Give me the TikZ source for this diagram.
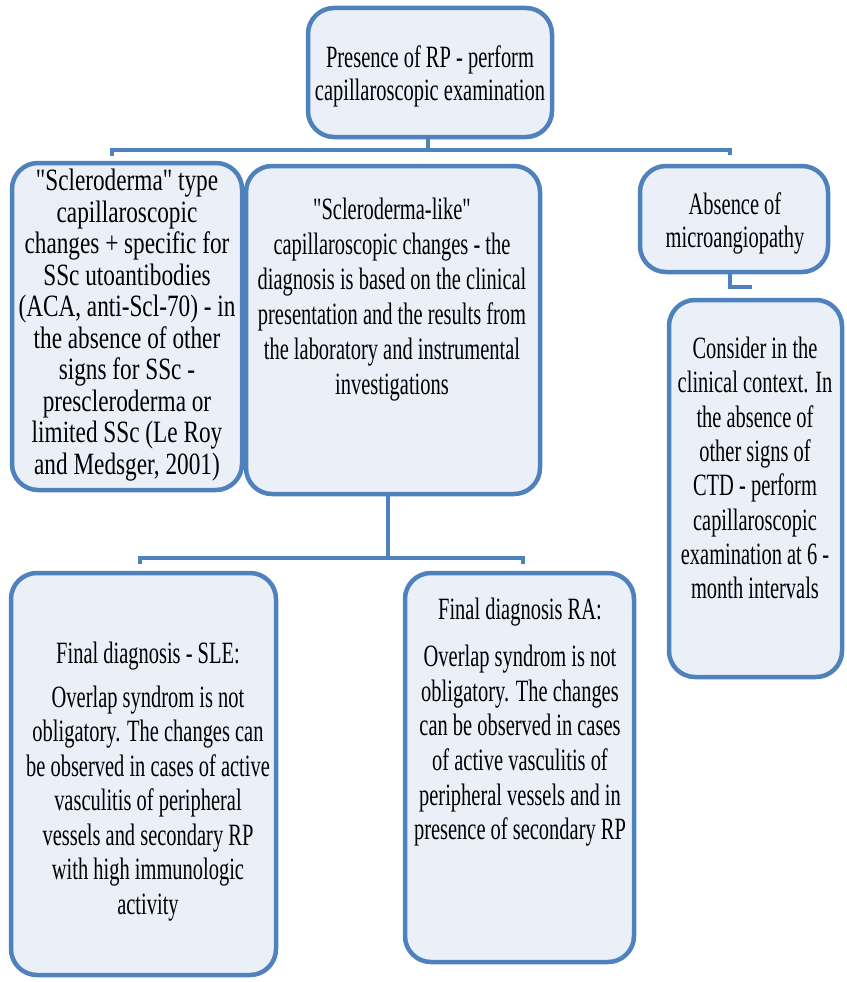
\documentclass[tikz,border=0pt]{standalone}
\usepackage{fontspec}
\setmainfont{Liberation Serif}[FakeStretch=0.66,Ligatures=TeXOff]
\newfontfamily\widefont{Liberation Serif}[FakeStretch=0.75,Ligatures=TeXOff]
\definecolor{bordblue}{HTML}{4F81BD}
\definecolor{boxfill}{HTML}{EBF0F8}
\begin{document}
\begin{tikzpicture}[x=1pt,y=-1pt,
  box/.style={draw=bordblue,fill=boxfill,line width=4.5pt,rounded corners=26pt,inner sep=0pt},
  txt/.style={align=center,inner sep=0pt,font=\fontsize{31}{#1}\selectfont},
  conn/.style={draw=bordblue,line width=4pt}]
\useasboundingbox (0,0) rectangle (846,982);
% boxes
\node[box,minimum width=244pt,minimum height=129pt] (top) at (430,72.5) {};
\node[box,minimum width=230pt,minimum height=327pt] (l1) at (127,326.5) {};
\node[box,minimum width=294pt,minimum height=328pt] (m) at (393,330) {};
\node[box,minimum width=188pt,minimum height=106pt] (abs) at (734,219) {};
\node[box,minimum width=173pt,minimum height=377pt] (cons) at (755.5,488.5) {};
\node[box,minimum width=265pt,minimum height=402pt] (sle) at (143.5,774) {};
\node[box,minimum width=229pt,minimum height=389pt] (ra) at (519.5,767.5) {};
% texts
\node[txt=33pt] (topt) at (430,76) {Presence of RP - perform\\capillaroscopic examination};
\node[txt=31.5pt,font=\widefont\fontsize{31}{31.5}\selectfont] (l1t) at (127,325) {"Scleroderma" type\\capillaroscopic\\changes + specific for\\SSc utoantibodies\\(ACA, anti-Scl-70) - in\\the absence of other\\signs for SSc -\\prescleroderma or\\limited SSc (Le Roy\\and Medsger, 2001)};
\node[txt=35pt] (mt) at (392,300) {"Scleroderma-like"\\capillaroscopic changes - the\\diagnosis is based on the clinical\\presentation and the results from\\the laboratory and instrumental\\investigations};
\node[txt=33pt] (abst) at (735,223.5) {Absence of\\microangiopathy};
\node[txt=34.3pt] (const) at (755,468) {Consider in the\\clinical context. In\\the absence of\\other signs of\\CTD - perform\\capillaroscopic\\examination at 6 -\\month intervals};
\node[txt=34.5pt] (slet) at (148,781.5) {Final diagnosis - SLE:\\[9pt]Overlap syndrom is not\\obligatory. The changes can\\be observed in cases of active\\vasculitis of peripheral\\vessels and secondary RP\\with high immunologic\\activity};
\node[txt=34.6pt] (rat) at (520,722) {Final diagnosis RA:\\[13pt]Overlap syndrom is not\\obligatory. The changes\\can be observed in cases\\of active vasculitis of\\peripheral vessels and in\\presence of secondary RP};
% connectors
\coordinate (tb) at (428,150);
\coordinate (tl) at (112,150);
\coordinate (tr) at (730,150);
\draw[conn] (top.south -| tb) -- (tb);
\draw[conn] ([yshift=-6pt]tl) -- (tl) -- (tr) -- ([yshift=-5pt]tr);
\coordinate (mb) at (388,558);
\coordinate (bl) at (140,558);
\coordinate (br) at (523,558);
\draw[conn] (m.south -| mb) -- (mb);
\draw[conn] ([yshift=-6pt]bl) -- (bl) -- (br) -- ([yshift=-6pt]br);
\coordinate (ae) at (730,287);
\coordinate (ce) at (752,287);
\draw[conn] (abs.south -| ae) -- (ae) -- (ce);
\end{tikzpicture}
\end{document}
